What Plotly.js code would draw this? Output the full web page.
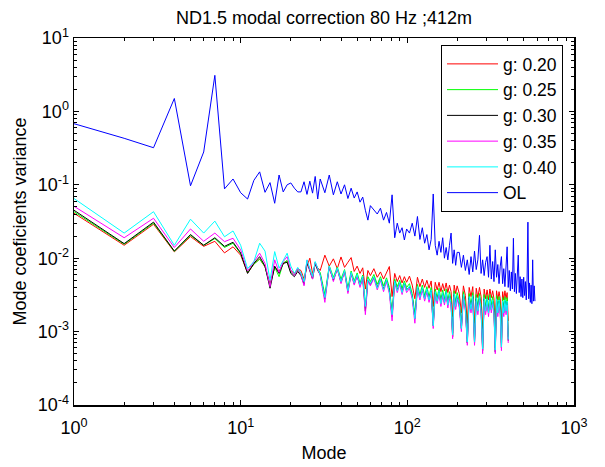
<!DOCTYPE html>
<html><head><meta charset="utf-8">
<script src="https://cdn.plot.ly/plotly-3.0.1.min.js"></script>
<style>html,body{margin:0;padding:0;background:#fff}</style>
</head><body>
<div id="chart" style="width:605px;height:467px"></div>
<script>
// Mode numbers sampled for the corrected (g) curves
const gModes = [1,2,3,4,5,6,7,8,9,10,11,12,13,14,15,16,17,18,19,20,21,22,23,24,25,26,27,28,29,30,
32,34,36,38,40,42,44,46,48,50,52,54,56,58,60,
63,66,69,72,75,78,81,84,87,90,93,96,99,
103,107,111,115,119,123,127,131,135,139,143,147,151,155,159,163,167,171,175,179,183,187,191,195,199,
205,211,217,223,229,235,241,247,253,259,265,271,277,283,289,295,301,307,313,319,325,331,337,343,349,355,361,367,373,379,385,391,397,403];

// Mode numbers sampled for the open-loop curve
const olModes = [1,2,3,4,5,6,7,8,9,10,11,12,13,14,15,16,17,18,19,20,21,22,23,24,25,26,27,28,29,30,
32,34,36,38,40,42,44,46,48,50,52,54,56,58,60,
63,66,69,72,75,78,81,84,87,90,93,96,99,
103,107,111,115,119,123,127,131,135,139,143,147,151,155,159,163,167,171,175,179,183,187,191,195,199,
205,211,217,223,229,235,241,247,253,259,265,271,277,283,289,295,301,307,313,319,325,331,337,343,349,355,361,367,373,379,385,391,397,403,
409,415,421,427,433,439,445,451,457,463,469,475,481,487,493,499,505,511,517,523,529,535,541,547,553,559,565,571,577,583];

const g020 = [0.041,0.015,0.029,0.0122,0.0197,0.0145,0.017,0.0118,0.0143,0.011,
0.0063,0.0083,0.0098,0.0076,0.0045,0.0075,0.0066,0.0084,0.0092,0.0068,
0.0062,0.0072,0.0068,0.0052,0.0078,0.01,0.0062,0.0082,0.0074,0.0068,
0.011,0.0078,0.0098,0.0072,0.0104,0.0075,0.0088,0.0102,0.0066,0.0078,0.0062,0.0074,0.0038,0.0068,0.0058,
0.0072,0.0055,0.0065,0.0052,0.0063,0.0077,0.003,0.0062,0.0048,0.0058,0.0046,0.0056,0.0047,
0.0057,0.0043,0.0028,0.0055,0.0041,0.0052,0.004,0.005,0.0039,0.0049,0.0022,0.0047,0.0037,0.0047,0.0035,0.0045,0.0036,0.0046,0.0034,0.0043,0.0035,0.0016,0.0043,0.0033,0.0042,
0.0033,0.0018,0.0042,0.0031,0.0013,0.004,0.003,0.0041,0.0013,0.0039,0.0029,0.004,0.003,0.0011,0.0038,0.0028,0.0037,0.0027,0.0038,0.0029,0.0036,0.0028,0.0011,0.0036,0.0027,0.0035,0.0028,0.0012,0.0035,0.0027,0.0036,0.0028,0.0034,0.0014];

const g025 = [0.043,0.0155,0.030,0.0124,0.0205,0.015,0.0185,0.014,0.016,0.0115,
0.0064,0.0083,0.0097,0.0077,0.0042,0.0076,0.0056,0.0086,0.0093,0.0064,
0.0059,0.0069,0.0062,0.0047,0.009,0.0069,0.0056,0.0088,0.0071,0.0064,
0.0032,0.0079,0.0055,0.0076,0.0052,0.007,0.0039,0.0067,0.0049,0.0063,0.0046,0.0059,0.0021,0.0056,0.0048,
0.006,0.0044,0.0056,0.0042,0.0054,0.004,0.0018,0.0052,0.0041,0.005,0.0039,0.0049,0.004,
0.0045,0.0033,0.0017,0.0044,0.0032,0.0043,0.0031,0.0041,0.003,0.004,0.0013,0.0038,0.0029,0.0039,0.0027,0.0037,0.0028,0.0038,0.0026,0.0035,0.0027,0.00095,0.0036,0.0025,0.0034,
0.0026,0.0012,0.0035,0.0024,0.0008,0.0033,0.0023,0.0034,0.0008,0.0032,0.0022,0.0033,0.0023,0.0006,0.0032,0.0022,0.0031,0.0021,0.0032,0.0023,0.003,0.0022,0.0006,0.0031,0.0021,0.003,0.0022,0.0007,0.0029,0.0021,0.003,0.0022,0.0029,0.00085];

const g030 = [0.045,0.0158,0.031,0.0125,0.021,0.015,0.019,0.0145,0.0165,0.0118,
0.0062,0.0085,0.0105,0.0078,0.0039,0.0078,0.0062,0.0085,0.0088,0.0062,
0.0056,0.0066,0.0058,0.0044,0.0088,0.0065,0.0052,0.0085,0.0068,0.006,
0.0028,0.0075,0.005,0.0072,0.0047,0.0066,0.0035,0.0062,0.0045,0.0058,0.0042,0.0055,0.0019,0.005,0.0044,
0.0055,0.004,0.0052,0.0038,0.005,0.0036,0.0016,0.0048,0.0037,0.0046,0.0035,0.0045,0.0037,
0.0041,0.003,0.0015,0.004,0.0029,0.0039,0.0028,0.0037,0.0027,0.0036,0.0012,0.0034,0.0026,0.0035,0.0024,0.0033,0.0025,0.0034,0.0023,0.0031,0.0024,0.00085,0.0032,0.0022,0.003,
0.0023,0.0011,0.0031,0.0021,0.0007,0.0029,0.002,0.003,0.0007,0.0028,0.0019,0.0029,0.002,0.00055,0.0028,0.0019,0.0027,0.0018,0.0028,0.002,0.0026,0.0019,0.00053,0.0027,0.0018,0.0026,0.0019,0.0006,0.0025,0.0018,0.0026,0.0019,0.0025,0.00075];

const g035 = [0.051,0.019,0.035,0.014,0.025,0.017,0.022,0.0168,0.0187,0.013,
0.0067,0.0088,0.0117,0.0085,0.0041,0.0095,0.0064,0.009,0.0105,0.0068,
0.0058,0.0072,0.006,0.0042,0.0094,0.0068,0.0052,0.0088,0.007,0.0058,
0.0025,0.0077,0.0048,0.0073,0.0045,0.0066,0.0033,0.0062,0.0043,0.0057,0.004,0.0054,0.0017,0.0049,0.0042,
0.0053,0.0037,0.005,0.0035,0.0048,0.0033,0.0014,0.0046,0.0034,0.0044,0.0032,0.0043,0.0034,
0.0039,0.0028,0.0013,0.0038,0.0027,0.0037,0.0026,0.0035,0.0025,0.0034,0.0011,0.0032,0.0024,0.0033,0.0022,0.0031,0.0023,0.0032,0.0021,0.0029,0.0022,0.0008,0.003,0.002,0.0028,
0.0021,0.001,0.0029,0.0019,0.00065,0.0027,0.0018,0.0028,0.00065,0.0026,0.0017,0.0027,0.0018,0.0005,0.0026,0.0017,0.0025,0.0016,0.0026,0.0018,0.0024,0.0017,0.0005,0.0025,0.0016,0.0024,0.0017,0.00055,0.0023,0.0016,0.0024,0.0017,0.0023,0.0007];

const g040 = [0.065,0.022,0.043,0.015,0.034,0.022,0.032,0.0196,0.0235,0.015,
0.0072,0.009,0.016,0.0125,0.005,0.0123,0.0073,0.0095,0.0117,0.0078,
0.0062,0.0075,0.0063,0.0048,0.0095,0.0072,0.0056,0.009,0.0073,0.006,
0.0029,0.0078,0.0052,0.0074,0.0048,0.0068,0.0036,0.0064,0.0046,0.006,0.0043,0.0057,0.0022,0.0052,0.0045,
0.0056,0.0039,0.0052,0.0037,0.0051,0.0035,0.0017,0.0049,0.0036,0.0047,0.0034,0.0046,0.0036,
0.0042,0.003,0.0015,0.0041,0.0029,0.004,0.0028,0.0038,0.0027,0.0037,0.0012,0.0035,0.0026,0.0036,0.0024,0.0034,0.0025,0.0035,0.0023,0.0032,0.0024,0.0009,0.0033,0.0022,0.0031,
0.0024,0.0011,0.0032,0.0021,0.00072,0.003,0.002,0.0031,0.00072,0.0029,0.0019,0.003,0.002,0.00058,0.0029,0.0019,0.0028,0.0018,0.0029,0.002,0.0027,0.0019,0.00056,0.0028,0.0018,0.0027,0.0019,0.00062,0.0026,0.0018,0.0027,0.0019,0.0026,0.00078];

const olValues = [0.68,0.43,0.32,1.5,0.097,0.28,3.1,0.088,0.12,0.078,
0.064,0.115,0.15,0.079,0.107,0.056,0.136,0.08,0.1,0.106,
0.09,0.08,0.08,0.11,0.074,0.112,0.077,0.13,0.064,0.12,
0.078,0.136,0.073,0.11,0.075,0.1,0.065,0.09,0.066,0.08,0.058,0.068,0.045,0.033,0.052,
0.046,0.04,0.048,0.033,0.042,0.03,0.073,0.019,0.03,0.022,0.026,0.0177,0.025,
0.022,0.03,0.02,0.037,0.018,0.026,0.016,0.021,0.013,0.018,0.075,0.015,0.011,0.017,0.012,0.019,0.01,0.014,0.0095,0.015,0.022,0.0085,0.013,0.008,0.012,
0.012,0.0075,0.011,0.0068,0.0095,0.006,0.0105,0.0065,0.0125,0.007,0.0095,0.0205,0.0062,0.0095,0.0058,0.0088,0.0105,0.0055,0.015,0.0052,
0.009,0.0048,0.013,0.0055,0.0082,0.0045,0.0078,0.0105,0.0045,0.0072,0.0041,0.0075,0.0143,0.004,0.0068,0.0036,0.0065,0.0038,0.0187,0.0035,
0.0062,0.0033,0.0058,0.011,0.0034,0.0056,0.003,0.0052,0.0029,0.0055,0.0031,0.0048,0.0027,0.0052,0.031,0.0028,0.0046,0.0025,0.0043,0.0024,
0.0095,0.0026,0.0042,0.0026];

const seriesNames = ['g: 0.20','g: 0.25','g: 0.30','g: 0.35','g: 0.40','OL'];
const seriesColors = ['#ff0000','#00ff00','#000000','#ff00ff','#00ffff','#0000ff'];
const xTickVals = [1,10,100,1000];
const xTickText = ['10<sup>0</sup>','10<sup>1</sup>','10<sup>2</sup>','10<sup>3</sup>'];
const yTickVals = [1e-4,1e-3,1e-2,1e-1,1,10];
const yTickText = ['10<sup>-4</sup>','10<sup>-3</sup>','10<sup>-2</sup>','10<sup>-1</sup>','10<sup>0</sup>','10<sup>1</sup>'];

const ys = [g020,g025,g030,g035,g040,olValues];
const traces = ys.map((y,i)=>({
  x: i===5 ? olModes : gModes,
  y: y,
  type:'scatter', mode:'lines',
  name: seriesNames[i],
  line:{color:seriesColors[i], width:1}
}));

const font = 'Liberation Sans, Arial, sans-serif';
const axisCommon = {
  type:'log', showgrid:false, zeroline:false,
  showline:true, linecolor:'#000', linewidth:1.5, mirror:'allticks',
  ticks:'inside', ticklen:5, tickcolor:'#000', tickwidth:1,
  tickmode:'array',
  minor:{ticks:'inside', ticklen:3, tickcolor:'#000', dtick:'D1', showgrid:false},
  tickfont:{family:font, size:18, color:'#000'}
};
const layout = {
  width:605, height:467,
  margin:{l:74, r:31, t:38, b:62},
  paper_bgcolor:'#fff', plot_bgcolor:'#fff',
  font:{family:font, color:'#000'},
  title:{text:'ND1.5 modal correction 80 Hz ;412m', font:{family:font, size:18, color:'#000'},
    x:0.5, xref:'paper', xanchor:'center', y:1-18/467, yref:'container', yanchor:'middle'},
  xaxis:Object.assign({}, axisCommon, {range:[0,3], tickvals:xTickVals, ticktext:xTickText,
    ticklabelstandoff:6,
    title:{text:'Mode', font:{family:font, size:18, color:'#000'}, standoff:9}}),
  yaxis:Object.assign({}, axisCommon, {range:[-4,1], tickvals:yTickVals, ticktext:yTickText,
    title:{text:'Mode coeficients variance', font:{family:font, size:18, color:'#000'}, standoff:6}}),
  showlegend:true,
  legend:{x:(441-74)/500, y:(405-45)/367, xanchor:'left', yanchor:'top',
    bgcolor:'#fff', bordercolor:'#000', borderwidth:1,
    font:{family:font, size:17.5, color:'#000'}, itemwidth:51, tracegroupgap:0}
};
Plotly.newPlot('chart', traces, layout, {staticPlot:true, displayModeBar:false});
</script>
</body></html>
